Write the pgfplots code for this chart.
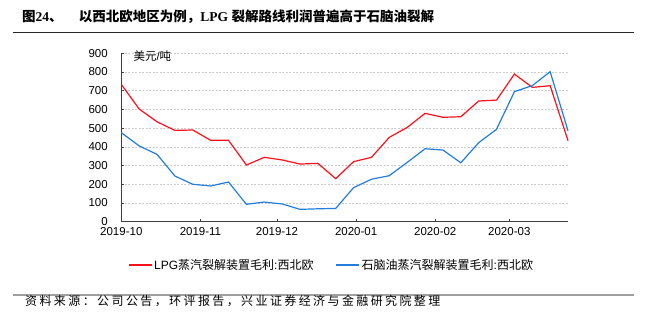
\documentclass[border=0pt]{standalone}
\usepackage{fontspec}
\setmainfont{Liberation Sans}
\newfontfamily\cjk{Noto Sans CJK SC}
\newfontfamily\cjksp[LetterSpace=20]{Noto Sans CJK SC}
\newfontfamily\serifb{Liberation Serif}
\usepackage{pgfplots}
\pgfplotsset{compat=1.18}
\definecolor{lpgred}{RGB}{255,15,25}
\definecolor{napblue}{RGB}{35,125,220}
\pgfplotstableread{
x lpg naphtha
0 734 476
7 602 405
14 534 360
21 488 244
28 490 200
35 435 191
42 435 212
49 303 93
56 344 105
63 330 95
70 308 66
77 312 69
84 230 71
91 321 182
98 344 227
105 451 246
112 504 317
119 579 390
126 558 383
133 561 315
140 645 422
147 650 494
154 789 695
161 718 727
168 727 802
175 433 486
}\data
\begin{document}
\begin{tikzpicture}[x=1bp,y=1bp]
\path[use as bounding box] (0,0) rectangle (648,324);
\node[anchor=west, inner sep=0pt] at (22,307) {\fontsize{13.5bp}{16bp}\selectfont\bfseries\cjk 图\serifb 24\cjk 、\hspace{1.2em}以西北欧地区为例，\serifb LPG \cjk 裂解路线利润普遍高于石脑油裂解};
\draw[black!85, line width=1bp] (13,291.7) -- (634,291.7);
\draw[gray!75, line width=2bp] (13,29.3) -- (634,29.3);
\node[anchor=west, inner sep=0pt] at (25,23) {\fontsize{12bp}{14bp}\selectfont\cjksp 资料来源：公司公告，环评报告，兴业证券经济与金融研究院整理};
\begin{axis}[
  at={(121.3bp,102.3bp)}, anchor=south west,
  scale only axis, width=446.7bp, height=168.4bp,
  xmin=0, xmax=175, ymin=0, ymax=900,
  axis lines=left,
  axis line style={-, draw=black!75, line width=0.8bp},
  xtick={0,31,61,92,123,152},
  xticklabels={2019-10,2019-11,2019-12,2020-01,2020-02,2020-03},
  ytick={0,100,...,900},
  tick align=inside,
  major tick length=3bp,
  tick style={black!75, line width=0.6bp},
  ymajorgrids,
  grid style={gray!40, dash pattern=on 2bp off 1.5bp, line width=0.6bp},
  /pgf/number format/assume math mode=true,
  tick label style={font=\fontsize{11.5bp}{13bp}\selectfont},
  yticklabel style={xshift=-10bp},
  xticklabel style={yshift=-2.5bp},
  legend columns=2,
  legend style={at={(0.4706,-0.257)}, anchor=center, draw=none, fill=none,
    font=\fontsize{12bp}{14bp}\selectfont,
    nodes={inner sep=2bp},
    /tikz/every even column/.append style={column sep=20bp}},
  legend image code/.code={\draw[#1] (0bp,0bp) -- (23bp,0bp);},
  clip=false,
]
\addplot[lpgred, line width=1.2bp] table[x=x, y=lpg] {\data};
\addlegendentry{LPG\cjk 蒸汽裂解装置毛利\rmfamily:\cjk 西北欧}
\addplot[napblue, line width=1.2bp] table[x=x, y=naphtha] {\data};
\addlegendentry{\cjk 石脑油蒸汽裂解装置毛利\rmfamily:\cjk 西北欧}
\node[anchor=west, inner sep=0pt] at (rel axis cs:0.0269,0.984) {\fontsize{11.5bp}{13bp}\selectfont\cjk 美元\rmfamily/\cjk 吨};
\end{axis}
\end{tikzpicture}
\end{document}
